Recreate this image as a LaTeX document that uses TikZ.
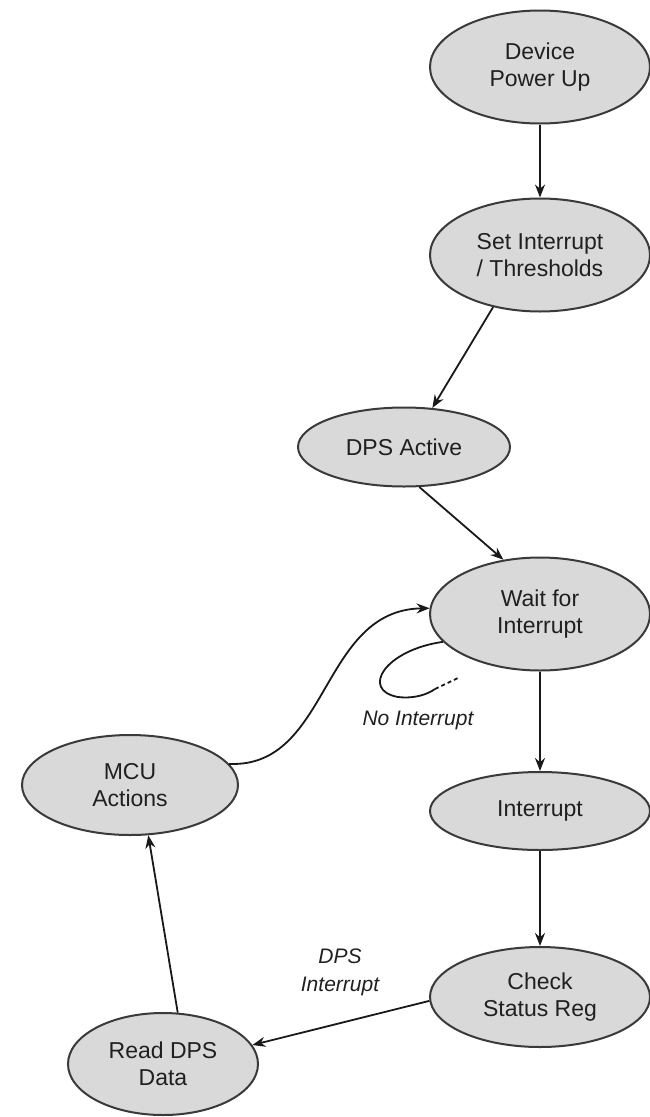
\documentclass[tikz,border=0pt]{standalone}
\usepackage{fontspec}
\setmainfont{Liberation Sans}
\usetikzlibrary{shapes.geometric,arrows.meta}
\definecolor{nodefill}{HTML}{D9D9D9}
\definecolor{nodeline}{HTML}{3A3A3A}
\definecolor{txt}{HTML}{202020}
\begin{document}
\begin{tikzpicture}[x=1pt,y=-1pt,
  state/.style={ellipse, draw=nodeline, line width=2pt, fill=nodefill, inner sep=0pt,
    align=center, text=txt, font=\fontsize{23}{27}\selectfont},
  big/.style={state, minimum width=220pt, minimum height=113pt},
  flat/.style={state, minimum width=220pt, minimum height=78pt},
  conn/.style={draw=black!90, line width=1.8pt, -{Stealth[length=13pt,width=10pt]}},
  lbl/.style={text=txt, font=\fontsize{21}{28}\selectfont\itshape, align=center}
]
\useasboundingbox (0,0) rectangle (649,1117);
\node[big] (dev) at (540,67) {Device\\Power Up};
\node[big] (set) at (540,255) {Set Interrupt\\/ Thresholds};
\node[state, minimum width=212pt, minimum height=79pt] (dps) at (404,447) {DPS Active};
\node[big] (wait) at (540,614) {Wait for\\Interrupt};
\node[flat] (intr) at (540,811) {Interrupt};
\node[state, minimum width=220pt, minimum height=100pt] (chk) at (540,997) {Check\\Status Reg};
\node[state, minimum width=216pt, minimum height=100pt] (mcu) at (130,785) {MCU\\Actions};
\node[state, minimum width=190pt, minimum height=102pt] (read) at (163,1064) {Read DPS\\Data};

\node[lbl] (noint) at (418,720) {No Interrupt};
\node[lbl] (dpsint) at (340,972) {DPS\\Interrupt};

\draw[conn] (dev.south) -- (set.north);
\draw[conn] (set.228) -- (dps.54);
\draw[conn] (dps.291) -- (wait.124);
\draw[conn] (wait.south) -- (intr.north);
\draw[conn] (intr.south) -- (chk.north);
\draw[conn] (chk.182) -- (read.12);
\draw[conn] (read.74) -- (mcu.290);
\draw[conn] (mcu.12) .. controls (330,768) and (320,610) .. (wait.177);

\coordinate (loopA) at (435,689);
\coordinate (loopB) at (458,678);
\draw[draw=black!90, line width=1.8pt] (wait.196) .. controls (385,650) and (360,690) .. (398,697)
  .. controls (415,699) and (428,694) .. (loopA);
\draw[draw=black!90, line width=1.8pt, dash pattern=on 4pt off 3pt] (loopA) -- (loopB);
\end{tikzpicture}
\end{document}
